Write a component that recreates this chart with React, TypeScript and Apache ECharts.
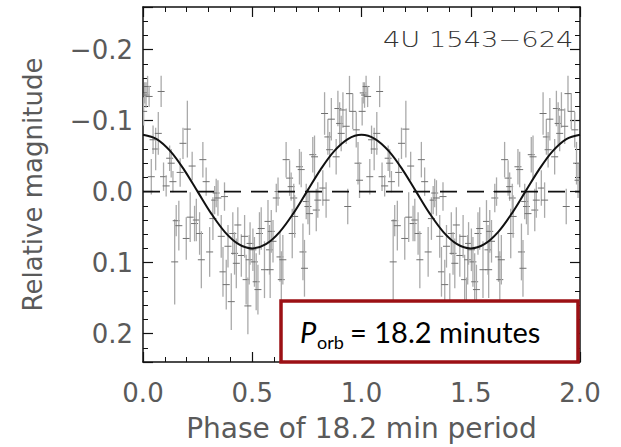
import React, { useEffect, useRef } from "react";
import * as echarts from "echarts";

// Phase-folded photometry (phase 0-1), shown twice (0-2)
const phases = [
  0.003, 0.008, 0.014, 0.021, 0.028, 0.038, 0.046, 0.058, 0.070, 0.083,
  0.094, 0.106, 0.122, 0.129, 0.137, 0.145, 0.152, 0.164, 0.170, 0.183,
  0.198, 0.203, 0.216, 0.225, 0.236, 0.244, 0.259, 0.267, 0.274, 0.289,
  0.305, 0.320, 0.328, 0.335, 0.343, 0.358, 0.366, 0.373, 0.381, 0.389,
  0.404, 0.411, 0.419, 0.427, 0.434, 0.450, 0.465, 0.472, 0.480, 0.486,
  0.490, 0.503, 0.510, 0.518, 0.526, 0.533, 0.541, 0.556, 0.572, 0.579,
  0.582, 0.587, 0.595, 0.610, 0.618, 0.627, 0.633, 0.640, 0.655, 0.671,
  0.678, 0.683, 0.690, 0.694, 0.716, 0.724, 0.732, 0.739, 0.747, 0.755,
  0.762, 0.777, 0.785, 0.793, 0.800, 0.823, 0.831, 0.838, 0.846, 0.854,
  0.862, 0.884, 0.892, 0.900, 0.907, 0.915, 0.930, 0.937, 0.945, 0.960,
  0.976, 0.984, 0.991,
];
const magnitudes = [
  -0.113, -0.139, -0.136, -0.148, -0.134, -0.021, -0.073, -0.060, -0.082, -0.141,
  -0.021, -0.008, -0.047, -0.040, -0.014, 0.099, 0.041, 0.048, -0.027, -0.068,
  0.066, -0.088, 0.036, -0.036, 0.045, 0.040, 0.059, 0.096, -0.045, -0.014,
  0.085, 0.038, 0.012, 0.002, 0.009, 0.063, 0.113, 0.007, 0.131, 0.077,
  0.155, 0.059, 0.087, 0.101, 0.047, 0.090, 0.063, 0.124, 0.161, 0.096,
  0.073, 0.082, 0.099, 0.127, 0.138, 0.059, 0.052, 0.110, 0.042, 0.082,
  0.110, 0.056, 0.070, 0.009, 0.000, 0.092, 0.124, 0.096, -0.045, -0.019,
  -0.007, 0.059, 0.009, 0.035, -0.035, -0.031, 0.085, 0.108, 0.014, 0.021,
  0.031, -0.052, -0.049, 0.026, 0.012, -0.005, -0.110, 0.012, -0.077, -0.059,
  -0.102, -0.049, -0.117, -0.096, -0.082, -0.115, -0.092, 0.021, -0.138, -0.113,
  -0.087, -0.040, -0.016,
];
const errors = [
  0.020, 0.015, 0.018, 0.015, 0.015, 0.025, 0.020, 0.030, 0.030, 0.022,
  0.020, 0.015, 0.018, 0.020, 0.015, 0.060, 0.022, 0.035, 0.020, 0.022,
  0.030, 0.040, 0.035, 0.020, 0.025, 0.030, 0.030, 0.040, 0.025, 0.020,
  0.035, 0.030, 0.020, 0.020, 0.025, 0.030, 0.035, 0.020, 0.035, 0.030,
  0.040, 0.030, 0.030, 0.035, 0.025, 0.030, 0.030, 0.035, 0.040, 0.035,
  0.030, 0.030, 0.035, 0.040, 0.035, 0.030, 0.030, 0.040, 0.030, 0.035,
  0.040, 0.030, 0.030, 0.020, 0.020, 0.035, 0.040, 0.035, 0.025, 0.025,
  0.020, 0.035, 0.020, 0.030, 0.025, 0.025, 0.040, 0.040, 0.025, 0.025,
  0.030, 0.025, 0.030, 0.030, 0.025, 0.025, 0.030, 0.025, 0.025, 0.025,
  0.030, 0.025, 0.025, 0.030, 0.025, 0.025, 0.025, 0.025, 0.025, 0.025,
  0.025, 0.030, 0.025,
];

// Fitted sinusoid at 1/16 phase steps (one cycle)
const modelPhaseStep = 0.0625;
const modelCycle = [
  -0.080, -0.074, -0.057, -0.031, 0.0, 0.031, 0.057, 0.074, 0.080,
  0.074, 0.057, 0.031, 0.0, -0.031, -0.057, -0.074,
];

const xTicks = ["0.0", "0.5", "1.0", "1.5", "2.0"];
const yTicks = ["−0.2", "−0.1", "0.0", "0.1", "0.2"];

const FONT = "DejaVu Sans";
const TEXT_COLOR = "#5a5a5a";

export default function App() {
  const ref = useRef<HTMLDivElement>(null);
  useEffect(() => {
    if (!ref.current) return;
    document.body.style.margin = "0";
    const chart = echarts.init(ref.current, null, { renderer: "svg" });

    const points: number[][] = [];
    for (const k of [0, 1]) {
      phases.forEach((p, i) => points.push([p + k, magnitudes[i], errors[i]]));
    }
    const model: number[][] = [];
    for (let c = 0; c < 2; c++) {
      modelCycle.forEach((v, i) => model.push([c + i * modelPhaseStep, v]));
    }
    model.push([2, modelCycle[0]]);

    const yLabel = (v: number) => {
      const r = Math.round(v * 10);
      if (Math.abs(v * 10 - r) > 1e-6) return "";
      return yTicks[r + 2] ?? "";
    };
    const xLabel = (v: number) => {
      const r = Math.round(v * 2);
      if (Math.abs(v * 2 - r) > 1e-6) return "";
      return xTicks[r] ?? "";
    };

    const axisCommon = {
      axisLine: { onZero: false, lineStyle: { color: "#111", width: 1.5 } },
      axisTick: { inside: true, length: 10, lineStyle: { color: "#111", width: 1.2 } },
      minorTick: { show: true, splitNumber: 5, length: 5, lineStyle: { color: "#111", width: 1 } },
      splitLine: { show: false },
    };

    chart.setOption({
      animation: false,
      backgroundColor: "#fff",
      grid: { left: 143, right: 41, top: 7, bottom: 85 },
      xAxis: [
        {
          type: "value",
          min: 0,
          max: 2,
          interval: 0.5,
          position: "bottom",
          ...axisCommon,
          axisLabel: {
            formatter: xLabel,
            color: TEXT_COLOR,
            fontFamily: FONT,
            fontSize: 26,
            margin: 18,
          },
          name: "Phase of 18.2 min period",
          nameLocation: "middle",
          nameGap: 52,
          nameTextStyle: { color: TEXT_COLOR, fontFamily: FONT, fontSize: 28 },
        },
        {
          type: "value",
          min: 0,
          max: 2,
          interval: 0.5,
          position: "top",
          ...axisCommon,
          axisLabel: { show: false },
        },
      ],
      yAxis: [
        {
          type: "value",
          min: -0.26,
          max: 0.24,
          splitNumber: 5,
          inverse: true,
          position: "left",
          ...axisCommon,
          axisLabel: {
            formatter: yLabel,
            color: TEXT_COLOR,
            fontFamily: FONT,
            fontSize: 26,
            margin: 10,
          },
          name: "Relative magnitude",
          nameLocation: "middle",
          nameGap: 97,
          nameTextStyle: { color: TEXT_COLOR, fontFamily: FONT, fontSize: 26 },
        },
        {
          type: "value",
          min: -0.26,
          max: 0.24,
          splitNumber: 5,
          inverse: true,
          position: "right",
          ...axisCommon,
          axisLabel: { show: false },
        },
      ],
      series: [
        {
          type: "custom",
          xAxisIndex: 0,
          yAxisIndex: 0,
          clip: true,
          data: points,
          renderItem: (params: any, api: any) => {
            const x = api.value(0);
            const y = api.value(1);
            const e = api.value(2);
            const c = api.coord([x, y]);
            const t = api.coord([x, y - e]);
            const b = api.coord([x, y + e]);
            return {
              type: "group",
              children: [
                {
                  type: "line",
                  shape: { x1: c[0], y1: t[1], x2: c[0], y2: b[1] },
                  style: { stroke: "#aaaaaa", lineWidth: 1.3 },
                },
                {
                  type: "line",
                  shape: { x1: c[0] - 3.5, y1: c[1], x2: c[0] + 3.5, y2: c[1] },
                  style: { stroke: "#707070", lineWidth: 1 },
                },
              ],
            };
          },
          z: 2,
        },
        {
          type: "line",
          data: [
            [0, 0],
            [2, 0],
          ],
          showSymbol: false,
          lineStyle: { color: "#111", width: 1.6, type: [17, 10] },
          z: 3,
        },
        {
          type: "line",
          data: model,
          smooth: 0.35,
          showSymbol: false,
          lineStyle: { color: "#111", width: 2 },
          z: 4,
        },
      ],
      graphic: [
        {
          type: "text",
          x: 383,
          y: 40,
          scaleX: 1.3,
          style: {
            text: "4U 1543−624",
            font: `300 21px "${FONT}"`,
            fill: "#333",
            verticalAlign: "middle",
          },
          z: 10,
        },
        {
          type: "rect",
          shape: { x: 281, y: 301, width: 297, height: 61 },
          style: { fill: "#fff", stroke: "#9c1015", lineWidth: 3.5 },
          z: 20,
        },
        {
          type: "text",
          x: 300,
          y: 331,
          style: {
            text: "P",
            font: 'italic 29px "Lato"',
            fill: "#000",
            verticalAlign: "middle",
          },
          z: 21,
        },
        {
          type: "text",
          x: 317,
          y: 342,
          style: {
            text: "orb",
            font: '18px "Lato"',
            fill: "#000",
            verticalAlign: "middle",
          },
          z: 21,
        },
        {
          type: "text",
          x: 350,
          y: 331,
          style: {
            text: "= 18.2 minutes",
            font: '29px "Lato"',
            fill: "#000",
            verticalAlign: "middle",
          },
          z: 21,
        },
      ],
    });
    return () => chart.dispose();
  }, []);
  return <div ref={ref} style={{ width: 621, height: 447 }} />;
}
